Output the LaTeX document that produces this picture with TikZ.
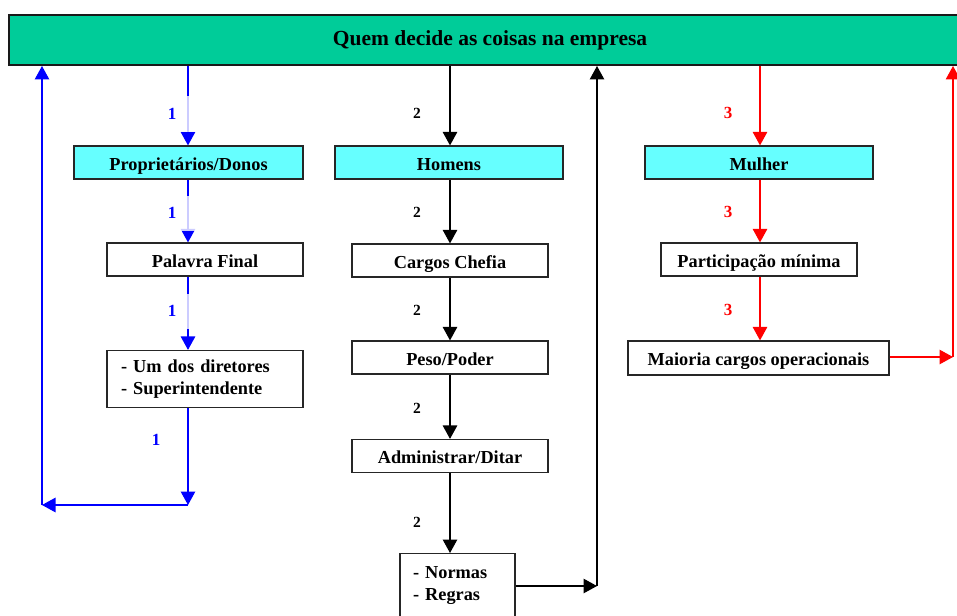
\documentclass[tikz,border=0pt]{standalone}
\usepackage{fontspec}
\setmainfont{Liberation Serif}
\usetikzlibrary{arrows.meta}
\definecolor{bannergreen}{HTML}{00CC99}
\definecolor{cyanbox}{HTML}{66FFFF}
\definecolor{lineblue}{HTML}{0000FF}
\definecolor{linered}{HTML}{FF0000}
\begin{document}
\begin{tikzpicture}[x=1pt,y=-1pt,
  basebox/.style={draw=black!85, line width=1.2pt, fill=white, minimum height=33pt,
    inner sep=0pt, font=\fontsize{18.3}{21.5}\selectfont\bfseries},
  box/.style={basebox, text height=16pt, text depth=1pt},
  headbox/.style={box, fill=cyanbox, minimum width=228pt},
  banner/.style={draw=black!90, line width=2pt, fill=bannergreen, inner sep=0pt,
    minimum height=50pt, minimum width=962pt, font=\fontsize{21.5}{24}\selectfont\bfseries},
  flow/.style={-{Triangle[length=13.5pt,width=14.5pt]}, line width=1.2pt},
  num/.style={inner sep=0pt, font=\fontsize{17}{17}\selectfont\bfseries},
  numtwo/.style={inner sep=0pt, font=\fontsize{15.5}{15.5}\selectfont\bfseries},
  numone/.style={num, text=lineblue, fill=white, fill opacity=0.8, text opacity=1,
    minimum width=50pt, minimum height=35pt}
]
\useasboundingbox (0,0) rectangle (957,615);
\clip (0,0) rectangle (957,615);

% title bar
\node[banner] (top) at (490,40) {\raisebox{3.5pt}{Quem decide as coisas na empresa}};

% column axes
\coordinate (c1) at (188,0);
\coordinate (c2) at (450,0);
\coordinate (c3) at (760,0);

% owners column
\node[headbox, minimum width=229pt] (prop) at (188.5,162.5) {Propriet\'arios/Donos};
\node[box, minimum width=196pt] (palavra) at (205,259.5) {Palavra Final};
\node[basebox, minimum width=196pt, minimum height=57pt, align=left, text width=168pt,
      inner xsep=14pt] (dir) at (205,379) {- Um dos diretores\\- Superintendente};

% men column
\node[headbox] (homens) at (449,162.5) {Homens};
\node[box, minimum width=196pt] (chefia) at (450,260.5) {Cargos Chefia};
\node[box, minimum width=196pt] (peso) at (450,357.5) {Peso/Poder};
\node[box, minimum width=196pt] (admin) at (450,456) {Administrar/Ditar};
\node[basebox, minimum width=115pt, minimum height=88pt, anchor=north, align=left,
      text width=89pt, inner xsep=13pt, font=\fontsize{18.3}{22}\selectfont\bfseries]
      (normas) at (457.5,553) {- Normas\\- Regras\\\strut};

% women column
\node[headbox] (mulher) at (759,162.5) {Mulher};
\node[box, minimum width=196pt] (partic) at (759,259.5) {Participa\c{c}\~ao m\'inima};
\node[box, minimum width=261pt, minimum height=34pt] (maioria) at (758.5,358) {Maioria cargos operacionais};

% return points
\coordinate (b1) at (188,505);
\coordinate (b2) at (42,505);
\coordinate (k1) at (597,586);
\coordinate (r1) at (953,357);

% blue flow
\begin{scope}[draw=lineblue, color=lineblue]
  \draw[flow] (top.south -| c1) -- (prop.north -| c1);
  \draw[flow] (prop.south -| c1) -- (palavra.north -| c1);
  \draw[flow] (palavra.south -| c1) -- (dir.north -| c1);
  \draw[flow] (dir.south -| c1) -- (b1);
  \draw[flow] (b1) -- (b2);
  \draw[flow] (b2) -- (top.south -| b2);
\end{scope}

% black flow
\begin{scope}[draw=black]
  \draw[flow] (top.south -| c2) -- (homens.north -| c2);
  \draw[flow] (homens.south -| c2) -- (chefia.north -| c2);
  \draw[flow] (chefia.south -| c2) -- (peso.north -| c2);
  \draw[flow] (peso.south -| c2) -- (admin.north -| c2);
  \draw[flow] (admin.south -| c2) -- (normas.north -| c2);
  \draw[flow] (normas.east |- k1) -- (k1);
  \draw[flow] (k1) -- (top.south -| k1);
\end{scope}

% red flow
\begin{scope}[draw=linered, color=linered]
  \draw[flow] (top.south -| c3) -- (mulher.north -| c3);
  \draw[flow] (mulher.south -| c3) -- (partic.north -| c3);
  \draw[flow] (partic.south -| c3) -- (maioria.north -| c3);
  \draw[flow] (maioria.east |- r1) -- (r1);
  \draw[flow] (r1) -- (top.south -| r1);
\end{scope}

% step numbers
\node[numone] (n11) at (172,114) {1};
\node[numone] (n12) at (172,213) {1};
\node[numone] (n13) at (172,311) {1};
\node[num, text=lineblue] (n14) at (156,440) {1};

\node[numtwo] (n21) at (417,113) {2};
\node[numtwo] (n22) at (417,212) {2};
\node[numtwo] (n23) at (417,310) {2};
\node[numtwo] (n24) at (417,408) {2};
\node[numtwo] (n25) at (417,522) {2};

\node[num, text=linered] (n31) at (728,113) {3};
\node[num, text=linered] (n32) at (728,212) {3};
\node[num, text=linered] (n33) at (728,310) {3};
\end{tikzpicture}
\end{document}
